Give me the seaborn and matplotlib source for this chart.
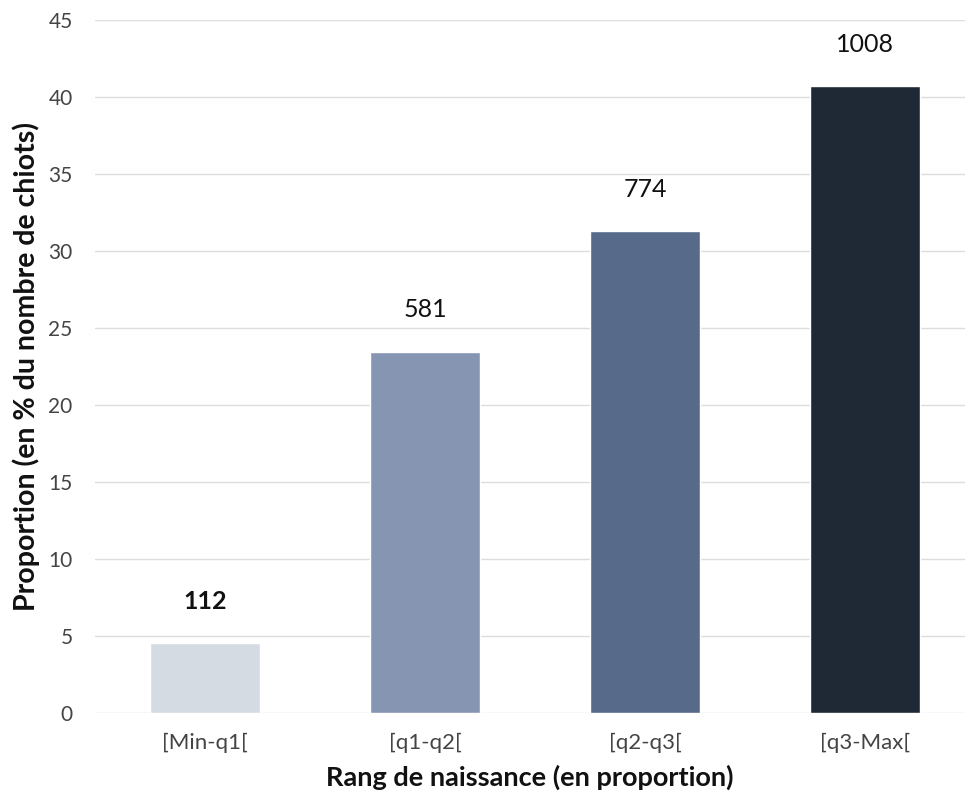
import matplotlib.pyplot as plt
import pandas as pd
import seaborn as sns

CATEGORIES = ["[Min-q1[", "[q1-q2[", "[q2-q3[", "[q3-Max["]
PROPORTIONS = [4.53, 23.47, 31.27, 40.73]
COUNTS = [112, 581, 774, 1008]
COLORS = ["#D5DBE2", "#8696B2", "#576A8A", "#1F2835"]
Y_TICKS = [0, 5, 10, 15, 20, 25, 30, 35, 40, 45]

sns.set_theme(style="white")
plt.rcParams["font.family"] = ["Lato", "DejaVu Sans"]

df = pd.DataFrame({"rang": CATEGORIES, "prop": PROPORTIONS, "n": COUNTS})

fig = plt.figure(figsize=(9.65, 7.98), dpi=100)
ax = fig.add_axes([0.0984, 0.1065, 0.9016, 0.8685])

sns.barplot(data=df, x="rang", y="prop", hue="rang", palette=COLORS,
            width=0.5, legend=False, ax=ax, saturation=1)

# effectifs au-dessus des barres
for i, (p, n) in enumerate(zip(PROPORTIONS, COUNTS)):
    ax.text(i, p + 2.7, str(n), ha="center", va="center", fontsize=18,
            color="#111111", fontweight="bold" if i == 0 else "normal")

ax.set_ylim(0, 45)
ax.set_xlim(-0.5, 3.455)
ax.set_yticks(Y_TICKS)
ax.yaxis.grid(True, color="#DDDDDD", linewidth=1)
ax.set_axisbelow(True)
for s in ax.spines.values():
    s.set_visible(False)
ax.tick_params(axis="x", labelsize=16, labelcolor="#444444", length=0, pad=14)
ax.tick_params(axis="y", labelsize=15, labelcolor="#444444", length=0, pad=16)
ax.set_xlabel("Rang de naissance (en proportion)", fontsize=19.5,
              fontweight="bold", color="#111111", labelpad=9)
ax.set_ylabel("Proportion (en % du nombre de chiots)", fontsize=20.5,
              fontweight="bold", color="#111111", labelpad=6)

fig.savefig("out.png", dpi=100)
